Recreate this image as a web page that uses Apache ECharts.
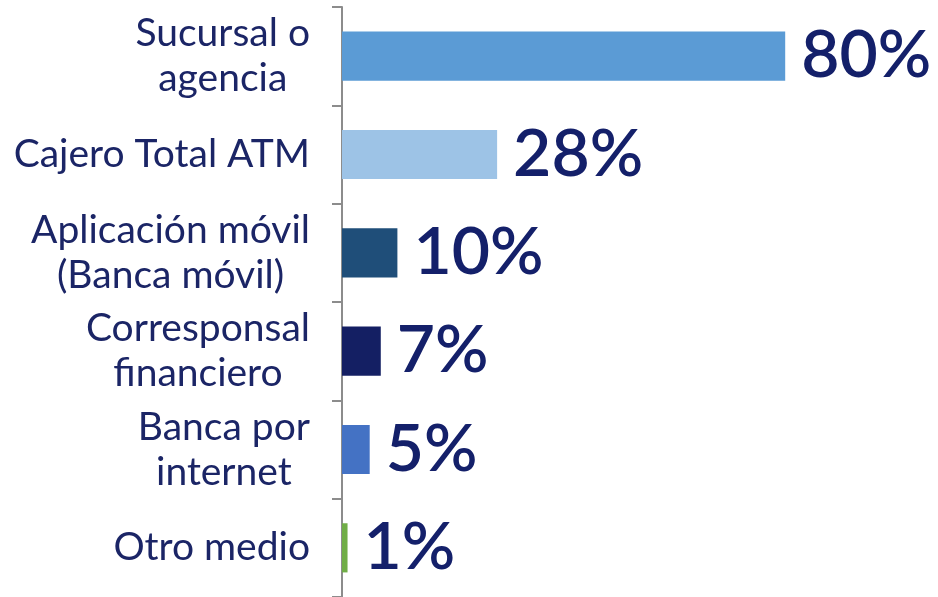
<!DOCTYPE html>
<html>
<head>
<meta charset="utf-8">
<script src="https://cdn.jsdelivr.net/npm/echarts@6/dist/echarts.min.js"></script>
<style>html,body{margin:0;padding:0;background:#fff}#c{width:938px;height:597px}</style>
</head>
<body>
<div id="c"></div>
<script>
const categories = ["Sucursal o\nagencia", "Cajero Total ATM", "Aplicación móvil\n(Banca móvil)", "Corresponsal\nfinanciero", "Banca por\ninternet", "Otro medio"];
const values = [80, 28, 10, 7, 5, 1];
const barColors = ["#5B9BD5", "#9DC3E6", "#1F4E79", "#141F63", "#4472C4", "#70AD47"];

const chart = echarts.init(document.getElementById('c'));
chart.setOption({
  animation: false,
  backgroundColor: '#ffffff',
  grid: { left: 342, right: 42, top: 7, bottom: 0, containLabel: false },
  xAxis: { type: 'value', min: 0, max: 100, show: false },
  yAxis: {
    type: 'category',
    data: categories,
    inverse: true,
    axisLine: { show: true, lineStyle: { color: '#8c8c8c', width: 2 } },
    axisTick: { show: true, length: 10, lineStyle: { color: '#8c8c8c', width: 2 } },
    axisLabel: {
      margin: 32,
      align: 'right',
      formatter: function (v) { return v.split('\n').map(s => '{c|' + s + '}').join('\n'); },
      rich: { c: { align: 'center', fontFamily: 'Lato', fontWeight: 400, fontSize: 39, lineHeight: 45, color: '#1B2566' } }
    }
  },
  series: [{
    type: 'bar',
    data: values.map((v, i) => ({ value: v, itemStyle: { color: barColors[i] } })),
    barWidth: '50%',
    label: {
      show: true,
      position: 'right',
      distance: 16,
      formatter: '{c}%',
      fontFamily: 'Lato',
      fontWeight: 600,
      fontSize: 66,
      color: '#14206A'
    }
  }]
});
</script>
</body>
</html>
